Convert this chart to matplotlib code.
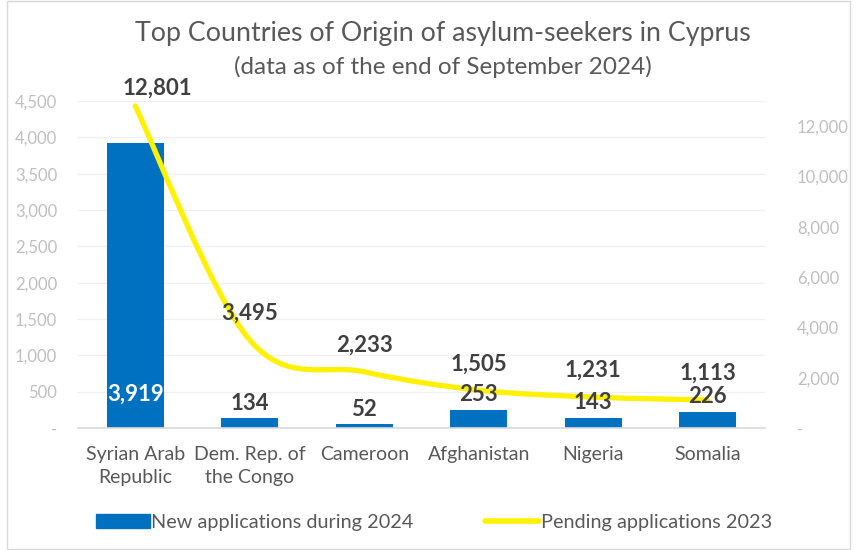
import numpy as np
import matplotlib
matplotlib.use("Agg")
import matplotlib.pyplot as plt
from matplotlib.path import Path
from matplotlib.patches import PathPatch, Rectangle
from matplotlib.lines import Line2D
from matplotlib.ticker import FuncFormatter, MultipleLocator

plt.rcParams['font.family'] = ['Lato', 'DejaVu Sans']

countries = ["Syrian Arab\nRepublic", "Dem. Rep. of\nthe Congo", "Cameroon",
             "Afghanistan", "Nigeria", "Somalia"]
new_2024 = [3919, 134, 52, 253, 143, 226]
pending_2023 = [12801, 3495, 2233, 1505, 1231, 1113]

BLUE = "#0070C0"
YELLOW = "#FFF100"
DARK = "#404040"
GREY = "#595959"
TICK = "#BFBFBF"


def smooth_path(xs, ys):
	# Catmull-Rom style bezier, like a spreadsheet "smoothed line"
	pts = np.column_stack([xs, ys]).astype(float)
	verts = [pts[0]]
	codes = [Path.MOVETO]
	n = len(pts)
	for i in range(n - 1):
		p0 = pts[max(i - 1, 0)]
		p1 = pts[i]
		p2 = pts[i + 1]
		p3 = pts[min(i + 2, n - 1)]
		c1 = p1 + (p2 - p0) / 6.0
		c2 = p2 - (p3 - p1) / 6.0
		verts += [c1, c2, p2]
		codes += [Path.CURVE4] * 3
	return Path(verts, codes)


fig = plt.figure(figsize=(8.56, 5.50), dpi=100)
ax = fig.add_axes([0.0911, 0.2218, 0.8026, 0.5946])
ax2 = ax.twinx()

x = np.arange(len(countries))
bars = ax.bar(x, new_2024, width=0.5, color=BLUE, zorder=2)

ax.set_xlim(-0.5, len(countries) - 0.5)
ax.set_ylim(0, 4500)
ax2.set_ylim(0, 13000)

ax.yaxis.set_major_locator(MultipleLocator(500))
ax2.yaxis.set_major_locator(MultipleLocator(2000))
fmt = FuncFormatter(lambda v, p: "-" if v == 0 else "{:,.0f}".format(v))
ax.yaxis.set_major_formatter(fmt)
ax2.yaxis.set_major_formatter(fmt)

ax.grid(axis='y', color="#F0F0F0", linewidth=1, zorder=0)
ax.set_axisbelow(True)

for a in (ax, ax2):
	for s in ("top", "left", "right", "bottom"):
		a.spines[s].set_visible(False)
	a.tick_params(length=0)
ax.spines["bottom"].set_visible(True)
ax.spines["bottom"].set_color("#D9D9D9")
ax.spines["bottom"].set_linewidth(1.2)

ax.tick_params(axis='y', labelsize=12, labelcolor=TICK, pad=15)
ax2.tick_params(axis='y', labelsize=12, labelcolor=TICK, pad=23)
ax.set_xticks(x)
ax.set_xticklabels(countries, fontsize=14, color=GREY, linespacing=1.45)
ax.tick_params(axis='x', pad=13)

# pending line
path = smooth_path(x, pending_2023)
ax2.add_patch(PathPatch(path, facecolor='none', edgecolor=YELLOW,
	linewidth=3.8, capstyle='round', zorder=3))

# bar labels (put on ax2 so they sit above the line)
for i, v in enumerate(new_2024):
	if v > 1000:
		ax2.annotate("{:,}".format(v), (x[i], 0), xycoords=ax.transData,
			xytext=(0, 24), textcoords='offset points', ha='center', va='center',
			fontsize=16, fontweight='bold', color='white', zorder=5)
	else:
		ax2.annotate("{:,}".format(v), (x[i], v), xycoords=ax.transData,
			xytext=(0, 3), textcoords='offset points', ha='center', va='bottom',
			fontsize=16, fontweight='bold', color=DARK, zorder=5)

# line labels
for i, v in enumerate(pending_2023):
	dx = 16 if i == 0 else 0
	dy = 13 if i == 0 else 19
	ax2.annotate("{:,}".format(v), (x[i], v), xytext=(dx, dy),
		textcoords='offset points', ha='center', va='center',
		fontsize=16, fontweight='bold', color=DARK, zorder=5)

fig.text(0.517, 0.940, "Top Countries of Origin of asylum-seekers in Cyprus",
	ha='center', va='center', fontsize=19.3, color=GREY)
fig.text(0.517, 0.878, "(data as of the end of September 2024)",
	ha='center', va='center', fontsize=17.5, color=GREY)

handles = [Rectangle((0, 0), 1, 1, color=BLUE),
	Line2D([0], [0], color=YELLOW, linewidth=4, solid_capstyle='round')]
fig.legend(handles, ["New applications during 2024", "Pending applications 2023"],
	loc='center', bbox_to_anchor=(0.507, 0.05), ncol=2, frameon=False,
	fontsize=14.3, labelcolor=GREY, handlelength=2.7, handletextpad=0.1,
	columnspacing=3.6)

fig.patches.append(Rectangle((7 / 856, 0.002), 843 / 856, 0.996,
	transform=fig.transFigure, fill=False, edgecolor="#D9D9D9", linewidth=1))

fig.savefig("out.png", dpi=100)
